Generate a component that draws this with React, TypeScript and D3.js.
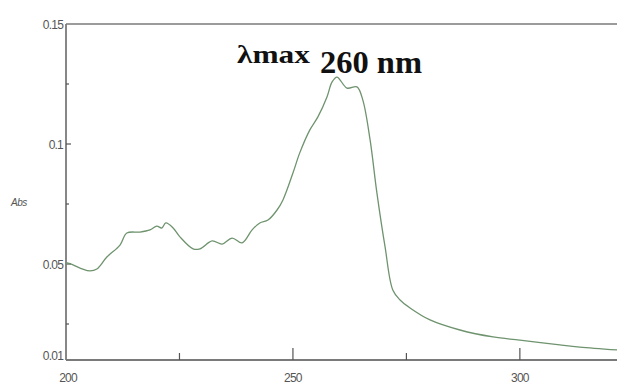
import { useEffect, useRef } from "react";
import * as d3 from "d3";

// wavelength (nm)
const wavelength = [
  200, 200.2, 203.1, 205.3, 206.8, 209.0, 211.9, 213.4, 216.3, 218.5, 220.0, 221.1, 222.0,
  223.6, 225.1, 228.0, 229.5, 232.2, 234.4, 236.6, 238.8, 241.0, 242.7, 244.5, 246.5,
  247.8, 250.0, 251.5, 253.7, 255.5, 257.5, 258.6, 259.7, 261.9, 264.1, 265.4, 267.0,
  268.5, 270.3, 272.0, 273.6, 275.8, 280.2, 286.8, 294.1, 300.0, 308.8, 313.2, 321.4,
];
// absorbance
const absorbance = [
  0.0496, 0.0504, 0.0483, 0.0471, 0.0479, 0.0529, 0.0579, 0.0629, 0.0633, 0.0642, 0.0658, 0.065, 0.0671,
  0.065, 0.0613, 0.0563, 0.0563, 0.0596, 0.0583, 0.0608, 0.0588, 0.0642, 0.0671, 0.0683, 0.0725,
  0.0767, 0.0879, 0.0963, 0.1058, 0.1113, 0.1196, 0.1258, 0.1279, 0.1233, 0.1238, 0.1183, 0.1017,
  0.0796, 0.0571, 0.0392, 0.035, 0.0317, 0.0267, 0.0225, 0.0196, 0.0183, 0.0163, 0.0154, 0.0142,
];

const yTicks = [0.01, 0.05, 0.1, 0.15];
const yMinor = [0.025, 0.075, 0.125];
const xTicks = [200, 250, 300];
const xMinor = [225, 275];

const width = 617;
const height = 387;
const left = 66;
const top = 24;
const bottom = 360;

const x = d3.scaleLinear().domain([200, 321.4]).range([left, width]);
const y = d3.scaleLinear().domain([0.01, 0.15]).range([bottom, top]);

export default function App() {
  const svgRef = useRef<SVGSVGElement>(null);

  const pts = wavelength.map((w, i) => [w, absorbance[i]] as [number, number]);
  const spectrum = d3.line<[number, number]>()
    .x((d) => x(d[0]))
    .y((d) => y(d[1]))
    .curve(d3.curveCatmullRom.alpha(0.5))(pts) ?? "";

  useEffect(() => {
    const svg = d3.select(svgRef.current);
    svg.select(".axes").remove();
    const g = svg.insert("g", ":first-child").attr("class", "axes");

    g.append("rect").attr("width", width).attr("height", height).attr("fill", "#fff");

    const axisColor = "#7a7a7a";

    // frame: top line, left axis, bottom axis
    g.append("line")
      .attr("x1", left).attr("x2", width)
      .attr("y1", top).attr("y2", top)
      .attr("stroke", axisColor).attr("stroke-width", 1.5);
    g.append("line")
      .attr("x1", left).attr("x2", left)
      .attr("y1", top).attr("y2", bottom)
      .attr("stroke", axisColor).attr("stroke-width", 1.8);
    g.append("line")
      .attr("x1", left).attr("x2", width)
      .attr("y1", bottom).attr("y2", bottom)
      .attr("stroke", axisColor).attr("stroke-width", 1.8);

    // y ticks point inward
    yTicks.concat(yMinor).forEach((v) => {
      if (v === 0.01 || v === 0.15) return;
      const major = yTicks.includes(v);
      g.append("line")
        .attr("x1", left).attr("x2", left + (major ? 5 : 3))
        .attr("y1", y(v)).attr("y2", y(v))
        .attr("stroke", "#555").attr("stroke-width", 1.2);
    });
    // x ticks point inward
    xTicks.concat(xMinor).forEach((v) => {
      if (v === 200) return;
      const major = xTicks.includes(v);
      g.append("line")
        .attr("x1", x(v)).attr("x2", x(v))
        .attr("y1", bottom).attr("y2", bottom - (major ? 12 : 7))
        .attr("stroke", "#555").attr("stroke-width", 1.2);
    });

    const tickFont = "'Liberation Sans Narrow', 'Liberation Sans', Arial, sans-serif";

    g.append("g")
      .selectAll("text")
      .data(yTicks)
      .join("text")
      .attr("x", left - 3)
      .attr("y", (d) => (d === 0.01 ? y(d) - 3 : y(d) + 2))
      .attr("text-anchor", "end")
      .attr("dominant-baseline", "middle")
      .attr("font-family", tickFont)
      .attr("font-size", 12)
      .attr("letter-spacing", -0.8)
      .attr("fill", "#555")
      .text((d) => String(d));

    g.append("g")
      .selectAll("text")
      .data(xTicks)
      .join("text")
      .attr("x", (d) => x(d) + (d === 200 ? 2 : 0))
      .attr("y", bottom + 22)
      .attr("text-anchor", "middle")
      .attr("font-family", tickFont)
      .attr("font-size", 12)
      .attr("letter-spacing", -0.8)
      .attr("fill", "#555")
      .text((d) => String(d));

    g.append("text")
      .attr("x", 11).attr("y", 206)
      .attr("font-family", tickFont)
      .attr("font-size", 10)
      .attr("font-style", "italic")
      .attr("letter-spacing", -0.5)
      .attr("fill", "#555")
      .text("Abs");
  }, []);

  const titleFont = "'Liberation Serif', 'Times New Roman', serif";

  return (
    <svg ref={svgRef} width={width} height={height} style={{ position: "absolute", left: 0, top: 0 }}>
      <path d={spectrum} fill="none" stroke="#6e936e" strokeWidth={1.3} />
      <text x={237} y={63} fontFamily={titleFont} fontWeight="bold" fontSize={26} fill="#111"
        textLength={73} lengthAdjust="spacingAndGlyphs">λmax</text>
      <text x={320} y={73} fontFamily={titleFont} fontWeight="bold" fontSize={32} fill="#111"
        textLength={102} lengthAdjust="spacingAndGlyphs">260 nm</text>
    </svg>
  );
}
